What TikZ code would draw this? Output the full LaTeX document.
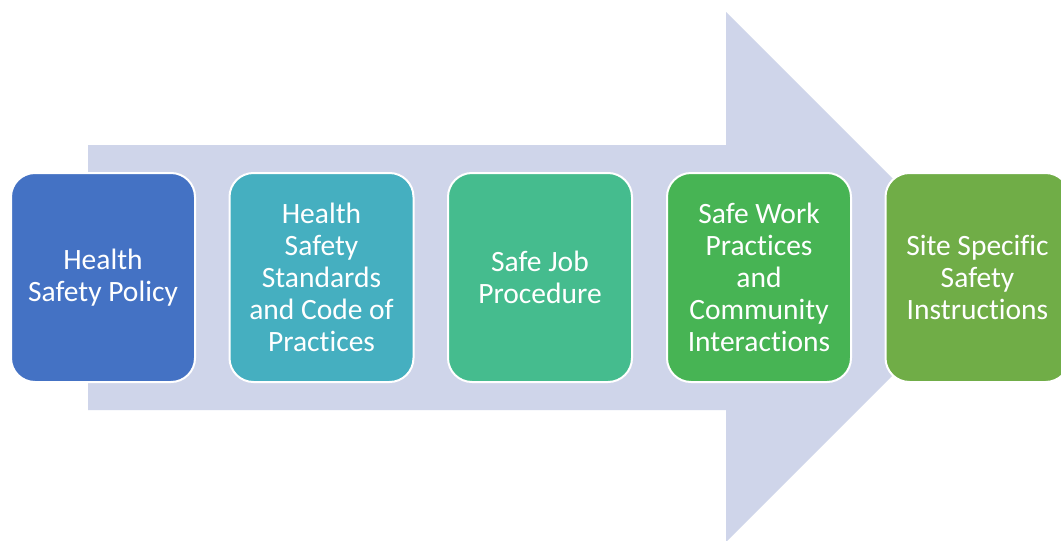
\documentclass[tikz,border=0pt]{standalone}
\usepackage{fontspec}
\setmainfont{Carlito}[Ligatures=NoCommon]
\definecolor{arrowc}{HTML}{CFD5EA}
\definecolor{c1}{HTML}{4472C4}
\definecolor{c2}{HTML}{45AFC0}
\definecolor{c3}{HTML}{45BC8E}
\definecolor{c4}{HTML}{47B454}
\definecolor{c5}{HTML}{70AD47}
\tikzset{
  stepbox/.style={draw=white, line width=2pt, rounded corners=24pt,
    minimum width=184pt, minimum height=209pt, text=white, align=center,
    font=\fontsize{29.5}{32}\selectfont, inner sep=0pt}
}
\begin{document}
\begin{tikzpicture}[x=1pt,y=-1pt]
\clip (0,0) rectangle (1061,541);
\fill[white] (0,0) rectangle (1061,541);
\fill[arrowc] (88,145) -- (726,145) -- (726,12) -- (991,277) -- (726,542) -- (726,410) -- (88,410) -- cycle;
\node[stepbox, fill=c1] (b1) at (103,277.5) {Health\\Safety Policy};
\node[stepbox, fill=c2] (b2) at (321.5,277.5) {Health\\Safety\\Standards\\and Code of\\Practices};
\node[stepbox, fill=c3] (b3) at (540,277.5) {Safe Job\\Procedure};
\node[stepbox, fill=c4] (b4) at (759,277.5) {Safe Work\\Practices\\and\\Community\\Interactions};
\node[stepbox, fill=c5] (b5) at (977.5,277.5) {Site Specific\\Safety\\Instructions};
\end{tikzpicture}
\end{document}
